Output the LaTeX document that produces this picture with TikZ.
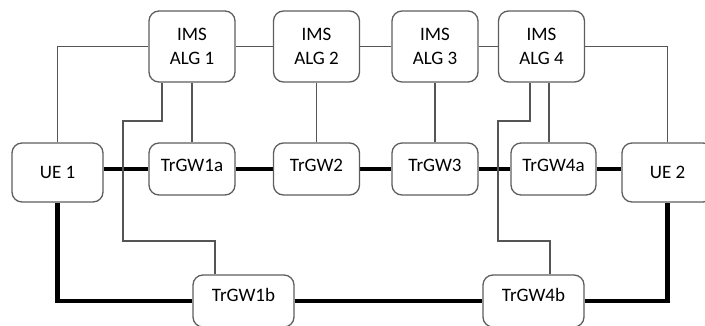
\documentclass[tikz,border=0pt]{standalone}
\usepackage{fontspec}
\setmainfont{Carlito}
\definecolor{edgegray}{HTML}{5E5E5E}
\definecolor{linkgray}{HTML}{555555}
\pgfdeclarelayer{links}
\pgfsetlayers{links,main}
\begin{document}
\begin{tikzpicture}[x=1pt,y=-1pt,
  box/.style={draw=edgegray, line width=1.3pt, rounded corners=10pt, fill=white,
    inner sep=0pt, align=center, font=\fontsize{19}{24}\selectfont},
  algbox/.style={box, minimum width=86pt, minimum height=71pt},
  uebox/.style={box, minimum width=91pt, minimum height=59pt},
  gwbox/.style={box, minimum width=86pt, text height=28pt, text depth=24pt},
  widegw/.style={gwbox, minimum width=101pt, text height=26pt, text depth=26pt},
  signal/.style={draw=linkgray, line width=1.1pt},
  bearer/.style={draw=black, line width=4.5pt}]
\path[use as bounding box] (0,0) rectangle (705,325);
\clip (0,0) rectangle (705,325);

% application level gateways
\node[algbox] (alg1) at (192,46.5) {IMS\\ALG 1};
\node[algbox] (alg2) at (316.5,46.5) {IMS\\ALG 2};
\node[algbox] (alg3) at (435,46.5) {IMS\\ALG 3};
\node[algbox] (alg4) at (541.5,46.5) {IMS\\ALG 4};

% user equipment and transition gateways
\node[uebox] (ue1) at (57.5,172.5) {UE 1};
\node[gwbox] (tr1a) at (192,169) {TrGW1a};
\node[gwbox] (tr2) at (316.5,169) {TrGW2};
\node[gwbox] (tr3) at (435,169) {TrGW3};
\node[gwbox, minimum width=85pt] (tr4a) at (553.5,169) {TrGW4a};
\node[uebox] (ue2) at (667.5,172.5) {UE 2};
\node[widegw] (tr1b) at (243.5,301) {TrGW1b};
\node[widegw] (tr4b) at (533.5,301) {TrGW4b};

% bend points of the control links to the lower gateways
\coordinate (k1) at (123,121);
\coordinate (k2) at (123,241);
\coordinate (k3) at (498,121);
\coordinate (k4) at (498,241);

\begin{pgfonlayer}{links}
% media path (thick)
\draw[bearer] (tr1a.west -| ue1.east) -- (tr1a.west);
\draw[bearer] (tr1a.east) -- (tr2.west);
\draw[bearer] (tr2.east) -- (tr3.west);
\draw[bearer] (tr3.east) -- (tr4a.west);
\draw[bearer] (tr4a.east) -- (tr4a.east -| ue2.west);
\draw[bearer] (ue1.south) |- (tr1b.west);
\draw[bearer] (tr1b.east) -- (tr4b.west);
\draw[bearer] (tr4b.east) -| (ue2.south);

% signalling links (thin)
\draw[signal] (alg1.west) -| (ue1.north);
\draw[signal] (alg1.east) -- (alg2.west);
\draw[signal] (alg2.east) -- (alg3.west);
\draw[signal] (alg3.east) -- (alg4.west);
\draw[signal] (alg4.east) -| (ue2.north);
\draw[signal] (alg1.south) -- (tr1a.north);
\draw[signal] (alg2.south) -- (tr2.north);
\draw[signal] (alg3.south) -- (tr3.north);
\draw[signal] ([xshift=7.5pt]alg4.south) -- ([xshift=7.5pt]alg4.south |- tr4a.north);
\draw[signal] ([xshift=-30pt]alg1.south) |- (k1) -- (k2) -| ([xshift=-28.5pt]tr1b.north);
\draw[signal] ([xshift=-11.5pt]alg4.south) |- (k3) -- (k4) -| ([xshift=16.5pt]tr4b.north);
\end{pgfonlayer}
\end{tikzpicture}
\end{document}
